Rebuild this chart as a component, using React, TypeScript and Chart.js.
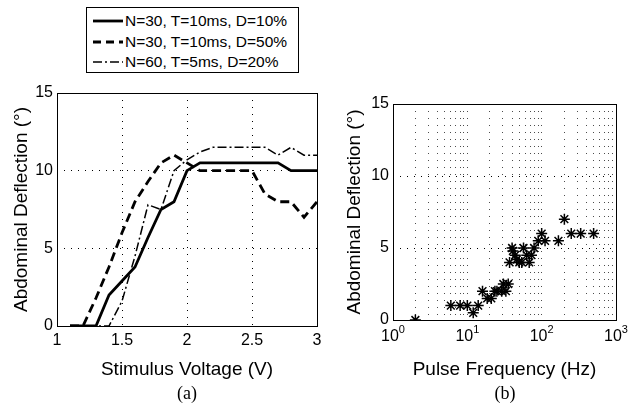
import React, { useEffect, useRef } from 'react';
import { Chart, registerables } from 'chart.js';

Chart.register(...registerables);

// ---------- data ----------
const voltage = [1.1, 1.2, 1.3, 1.4, 1.5, 1.6, 1.7, 1.8, 1.9, 2.0, 2.1, 2.2, 2.3, 2.4, 2.5, 2.6, 2.7, 2.8, 2.9, 3.0];
const deflD10 = [0, 0, 0, 2, 2.9, 3.8, 5.7, 7.5, 8, 10, 10.5, 10.5, 10.5, 10.5, 10.5, 10.5, 10.5, 10, 10, 10];
const deflD50 = [0, 0, 1.8, 3.8, 6, 8, 9.3, 10.5, 11, 10.5, 10, 10, 10, 10, 10, 8.5, 8, 8, 7, 8];
const deflD20 = [0, 0, 0, 0, 1.6, 4.5, 7.8, 7.5, 10, 10.7, 11.2, 11.5, 11.5, 11.5, 11.5, 11.5, 11, 11.5, 11, 11];
const legendLabels = ['N=30, T=10ms, D=10%', 'N=30, T=10ms, D=50%', 'N=60, T=5ms, D=20%'];

const pulseFreq = [2, 6, 8, 10, 12, 14, 16, 18.5, 21, 23.5, 25, 29, 30.5, 33, 35.5, 37, 40, 41, 44, 46, 50, 54, 57, 63, 68, 73, 79, 90, 100, 111, 168, 202, 250, 335, 500];
const pulseDefl = [0, 1, 1, 1, 0.5, 1, 2, 1.5, 1.5, 2, 2, 2, 2.5, 2, 2.5, 4, 5, 4.8, 4.5, 4.2, 4, 4, 5, 4.5, 4, 4.5, 5, 5.5, 6, 5.5, 5.5, 7, 6, 6, 6];

const voltageTicks = [1, 1.5, 2, 2.5, 3];
const deflTicks = [0, 5, 10, 15];
const freqGrid = [1, 2, 3, 4, 5, 6, 7, 8, 9, 10, 20, 30, 40, 50, 60, 70, 80, 90, 100, 200, 300, 400, 500, 600, 700, 800, 900, 1000];
const freqDecades = [1, 10, 100, 1000];
const decadeExponents = ['0', '1', '2', '3'];

// ---------- styles ----------
const FONT = "'Liberation Sans', Arial, sans-serif";
const SERIF = "'Liberation Serif', 'Times New Roman', serif";
const DOT = [1, 6];

const edgeHidden = (min: number, max: number, color: string) => (c: any) =>
  c.tick && (c.tick.value <= min + 1e-9 || c.tick.value >= max - 1e-9) ? 'rgba(0,0,0,0)' : color;

const boxPlugin = {
  id: 'box',
  afterDraw(chart: any) {
    const { ctx, chartArea: a } = chart;
    ctx.save();
    ctx.strokeStyle = '#000';
    ctx.lineWidth = 1;
    ctx.setLineDash([]);
    const l = Math.round(a.left) + 0.5;
    const t = Math.round(a.top) + 0.5;
    ctx.strokeRect(l, t, Math.round(a.right) - Math.round(a.left), Math.round(a.bottom) - Math.round(a.top));
    ctx.restore();
  },
};

const decadeLabelPlugin = {
  id: 'decadeLabels',
  afterDraw(chart: any) {
    const scale = chart.scales.x;
    const { ctx } = chart;
    ctx.save();
    ctx.fillStyle = '#000';
    ctx.textBaseline = 'alphabetic';
    freqDecades.forEach((v, i) => {
      const x = scale.getPixelForValue(v);
      ctx.font = `16px ${FONT}`;
      const w1 = ctx.measureText('10').width;
      ctx.font = `11px ${FONT}`;
      const w2 = ctx.measureText(decadeExponents[i]).width;
      const start = x - (w1 + w2) / 2;
      const base = scale.top + 21;
      ctx.font = `16px ${FONT}`;
      ctx.textAlign = 'left';
      ctx.fillText('10', start, base);
      ctx.font = `11px ${FONT}`;
      ctx.fillText(decadeExponents[i], start + w1, base - 8);
    });
    ctx.restore();
  },
};

const tickFont = { family: FONT, size: 16 };
const titleFont = { family: FONT, size: 19 };

function yScale(width: number, titlePad: number) {
  return {
    type: 'linear',
    min: 0,
    max: 15,
    afterBuildTicks: (s: any) => {
      s.ticks = deflTicks.map((v) => ({ value: v }));
    },
    afterFit: (s: any) => {
      s.width = width;
    },
    ticks: { padding: 4, font: tickFont, color: '#000' },
    grid: { color: edgeHidden(0, 15, '#000'), lineWidth: 1, drawTicks: false },
    border: { display: false, dash: DOT },
    title: { display: true, text: 'Abdominal Deflection (°)', font: titleFont, color: '#000', padding: { top: titlePad, bottom: 0 } },
  };
}

function LeftChart() {
  const ref = useRef<HTMLCanvasElement | null>(null);
  useEffect(() => {
    if (!ref.current) return;
    const mk = (arr: number[]) => voltage.map((x, i) => ({ x, y: arr[i] }));
    const chart = new Chart(ref.current, {
      type: 'line',
      data: {
        datasets: [
          { label: legendLabels[0], data: mk(deflD10), borderColor: '#000', borderWidth: 2.8, pointRadius: 0, fill: false, tension: 0 },
          { label: legendLabels[1], data: mk(deflD50), borderColor: '#000', borderWidth: 2.8, borderDash: [9, 5], pointRadius: 0, fill: false, tension: 0 },
          { label: legendLabels[2], data: mk(deflD20), borderColor: '#000', borderWidth: 1.5, borderDash: [9, 3, 2, 3], pointRadius: 0, fill: false, tension: 0 },
        ],
      } as any,
      options: {
        animation: false,
        responsive: false,
        layout: { padding: { left: 0, top: 93, right: 13, bottom: 34 } },
        plugins: { legend: { display: false }, tooltip: { enabled: false } },
        scales: {
          x: {
            type: 'linear',
            min: 1,
            max: 3,
            afterBuildTicks: (s: any) => {
              s.ticks = voltageTicks.map((v) => ({ value: v }));
            },
            afterFit: (s: any) => {
              s.height = 60;
            },
            ticks: { padding: 5, font: tickFont, color: '#000', maxRotation: 0, autoSkip: false, callback: (v: any) => String(v) },
            grid: { color: edgeHidden(1, 3, '#000'), lineWidth: 1, drawTicks: false },
            border: { display: false, dash: DOT },
            title: { display: true, text: 'Stimulus Voltage (V)', font: titleFont, color: '#000', padding: { top: 0, bottom: 5 } },
          },
          y: yScale(57, 10),
        } as any,
      },
      plugins: [boxPlugin],
    });
    return () => chart.destroy();
  }, []);
  return <canvas ref={ref} width={330} height={420} style={{ position: 'absolute', left: 0, top: 0, width: 330, height: 420 }} />;
}

function RightChart() {
  const ref = useRef<HTMLCanvasElement | null>(null);
  useEffect(() => {
    if (!ref.current) return;
    const chart = new Chart(ref.current, {
      type: 'scatter',
      data: {
        datasets: [
          {
            label: 'Pulse frequency',
            data: pulseFreq.map((x, i) => ({ x, y: pulseDefl[i] })),
            pointStyle: 'star',
            pointRadius: 5.5,
            borderColor: '#000',
            backgroundColor: '#000',
            borderWidth: 1.5,
            showLine: false,
          },
        ],
      } as any,
      options: {
        animation: false,
        responsive: false,
        layout: { padding: { left: 0, top: 104, right: 12, bottom: 34 } },
        plugins: { legend: { display: false }, tooltip: { enabled: false } },
        scales: {
          x: {
            type: 'logarithmic',
            min: 1,
            max: 1000,
            afterBuildTicks: (s: any) => {
              s.ticks = freqGrid.map((v) => ({ value: v, major: freqDecades.includes(v) }));
            },
            afterFit: (s: any) => {
              s.height = 66;
            },
            ticks: { display: false },
            grid: { color: edgeHidden(1, 1000, 'rgba(0,0,0,0.7)'), lineWidth: 1, drawTicks: false },
            border: { display: false, dash: DOT },
            title: { display: true, text: 'Pulse Frequency (Hz)', font: titleFont, color: '#000', padding: { top: 0, bottom: 5 } },
          },
          y: yScale(63, 13),
        } as any,
      },
      plugins: [boxPlugin, decadeLabelPlugin],
    });
    return () => chart.destroy();
  }, []);
  return <canvas ref={ref} width={298} height={420} style={{ position: 'absolute', left: 330, top: 0, width: 298, height: 420 }} />;
}

function LegendSample({ kind }: { kind: number }) {
  const dash = kind === 0 ? undefined : kind === 1 ? '8 5' : '9 3 2 3';
  const w = kind === 2 ? 1.5 : 2.8;
  return (
    <svg width={32} height={10} style={{ position: 'absolute', left: 5, top: -5 }}>
      <line x1={1} y1={5} x2={31} y2={5} stroke="#000" strokeWidth={w} strokeDasharray={dash} />
    </svg>
  );
}

export default function App() {
  return (
    <div style={{ position: 'fixed', left: 0, top: 0, width: 628, height: 420, background: '#fff', overflow: 'hidden' }}>
      <LeftChart />
      <RightChart />
      <div
        style={{
          position: 'absolute',
          left: 86,
          top: 7,
          width: 213,
          height: 66,
          border: '1px solid #000',
          background: '#fff',
          boxSizing: 'border-box',
          zIndex: 2,
        }}
      >
        {legendLabels.map((lab, i) => (
          <div key={lab} style={{ position: 'absolute', left: 0, top: 13 + i * 20.5, width: '100%', height: 0 }}>
            <LegendSample kind={i} />
            <span
              style={{
                position: 'absolute',
                left: 38,
                top: -10,
                fontFamily: FONT,
                fontSize: 15.5,
                lineHeight: '20px',
                whiteSpace: 'nowrap',
                color: '#000',
              }}
            >
              {lab}
            </span>
          </div>
        ))}
      </div>
      <div style={{ position: 'absolute', left: 137, width: 100, top: 381, textAlign: 'center', fontFamily: SERIF, fontSize: 18, lineHeight: '24px', color: '#000' }}>(a)</div>
      <div style={{ position: 'absolute', left: 455, width: 100, top: 381, textAlign: 'center', fontFamily: SERIF, fontSize: 18, lineHeight: '24px', color: '#000' }}>(b)</div>
    </div>
  );
}
